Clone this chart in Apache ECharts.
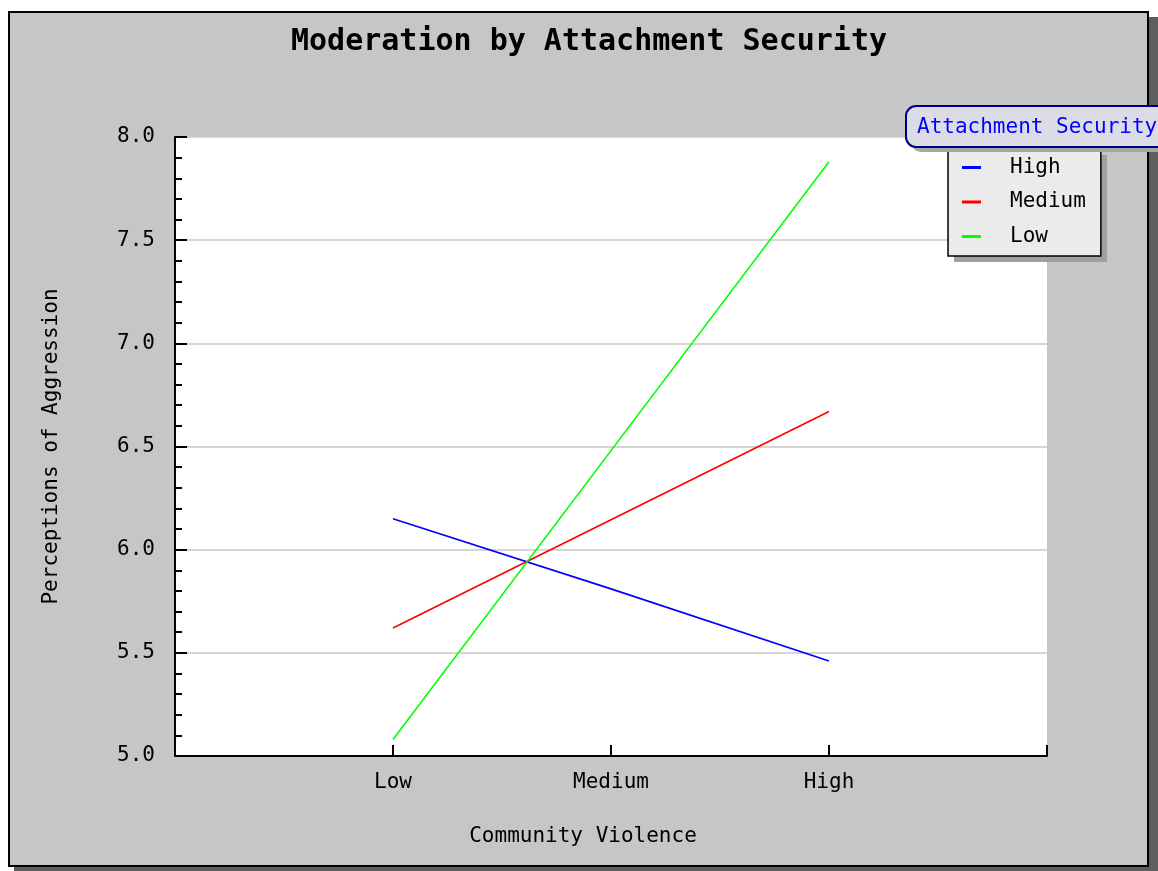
<!DOCTYPE html>
<html>
<head>
<meta charset="utf-8">
<script src="https://cdn.jsdelivr.net/npm/echarts@6/dist/echarts.min.js"></script>
<style>
html,body{margin:0;padding:0;background:#fff;}
#c{width:1158px;height:871px;}
</style>
</head>
<body>
<div id="c"></div>
<script>
const categories = ['Low', 'Medium', 'High'];
const seriesNames = ['High', 'Medium', 'Low'];
const highValues = [6.15, 5.81, 5.46];
const mediumValues = [5.62, 6.145, 6.67];
const lowValues = [5.08, 6.48, 7.88];
const yTicks = [5.0, 5.5, 6.0, 6.5, 7.0, 7.5, 8.0];

const FONT = 'DejaVu Sans Mono';
const colors = ['#0000ff', '#ff0000', '#00ff00'];
const valueSets = [highValues, mediumValues, lowValues];

const chart = echarts.init(document.getElementById('c'));
chart.setOption({
  animation: false,
  backgroundColor: '#ffffff',
  title: {
    text: 'Moderation by Attachment Security',
    left: 584, top: 22, textAlign: 'center',
    textStyle: { fontFamily: FONT, fontWeight: 'bold', fontSize: 30, color: '#000' }
  },
  grid: {
    left: 175, right: 111, top: 137, bottom: 115,
    show: true, backgroundColor: '#ffffff', borderWidth: 0
  },
  legend: {
    orient: 'vertical',
    z: 10,
    left: 948, top: 149,
    padding: [8, 15, 9, 14],
    itemWidth: 19, itemHeight: 3, itemGap: 13.5,
    icon: 'rect',
    backgroundColor: '#ebebeb',
    borderColor: '#000', borderWidth: 1.5,
    textStyle: { fontFamily: FONT, fontSize: 21, color: '#000', lineHeight: 20, padding: [0, 0, 0, 24] },
    data: seriesNames
  },
  xAxis: {
    type: 'value', min: 0, max: 4, interval: 1,
    name: 'Community Violence', nameLocation: 'middle', nameGap: 70,
    nameTextStyle: { fontFamily: FONT, fontSize: 21, color: '#000', padding: [0, 56, 0, 0] },
    axisLine: { show: true, lineStyle: { color: '#000', width: 2 } },
    axisTick: { show: true, inside: true, length: 11, lineStyle: { color: '#000', width: 2 } },
    splitLine: { show: false },
    axisLabel: {
      fontFamily: FONT, fontSize: 21, color: '#000', margin: 16,
      formatter: v => (v >= 1 && v <= categories.length && Number.isInteger(v)) ? categories[v - 1] : ''
    }
  },
  yAxis: {
    type: 'value', min: yTicks[0], max: yTicks[yTicks.length - 1], interval: 0.5,
    name: 'Perceptions of Aggression', nameLocation: 'middle', nameGap: 113,
    nameTextStyle: { fontFamily: FONT, fontSize: 21, color: '#000' },
    axisLine: { show: true, lineStyle: { color: '#000', width: 2 } },
    axisTick: { show: true, inside: true, length: 12, lineStyle: { color: '#000', width: 2 } },
    minorTick: { show: true, splitNumber: 5, length: 7, lineStyle: { color: '#000', width: 2 } },
    splitLine: { show: true, lineStyle: { color: '#c8c8c8', width: 1.5 } },
    axisLabel: {
      fontFamily: FONT, fontSize: 21, color: '#000', margin: 20,
      formatter: v => v.toFixed(1)
    }
  },
  graphic: [
    { type: 'rect', z: -20, silent: true, shape: { x: 14, y: 17, width: 1144, height: 854 }, style: { fill: '#5e5e5e' } },
    { type: 'rect', z: -10, silent: true, shape: { x: 9, y: 12, width: 1139, height: 854 }, style: { fill: '#c6c6c6', stroke: '#000', lineWidth: 2 } },
    { type: 'rect', z: 5, silent: true, shape: { x: 954, y: 155, width: 153, height: 107 }, style: { fill: '#a0a0a0' } },
    { type: 'rect', z: 100, silent: true, shape: { x: 911, y: 111, width: 270, height: 41, r: 10 }, style: { fill: '#a6a6a6' } },
    { type: 'rect', z: 101, silent: true, shape: { x: 906, y: 106, width: 270, height: 41, r: 10 }, style: { fill: '#dcdce6', stroke: '#000080', lineWidth: 2 } },
    { type: 'text', z: 102, silent: true, x: 917, y: 128, style: { text: 'Attachment Security', fontFamily: FONT, fontSize: 21, fill: '#0000ff', verticalAlign: 'middle', align: 'left' } }
  ],
  series: seriesNames.map((name, i) => ({
    name: name,
    type: 'line',
    symbol: 'none',
    color: colors[i],
    lineStyle: { color: colors[i], width: 1.6 },
    data: valueSets[i].map((v, j) => [j + 1, v])
  }))
});
</script>
</body>
</html>
